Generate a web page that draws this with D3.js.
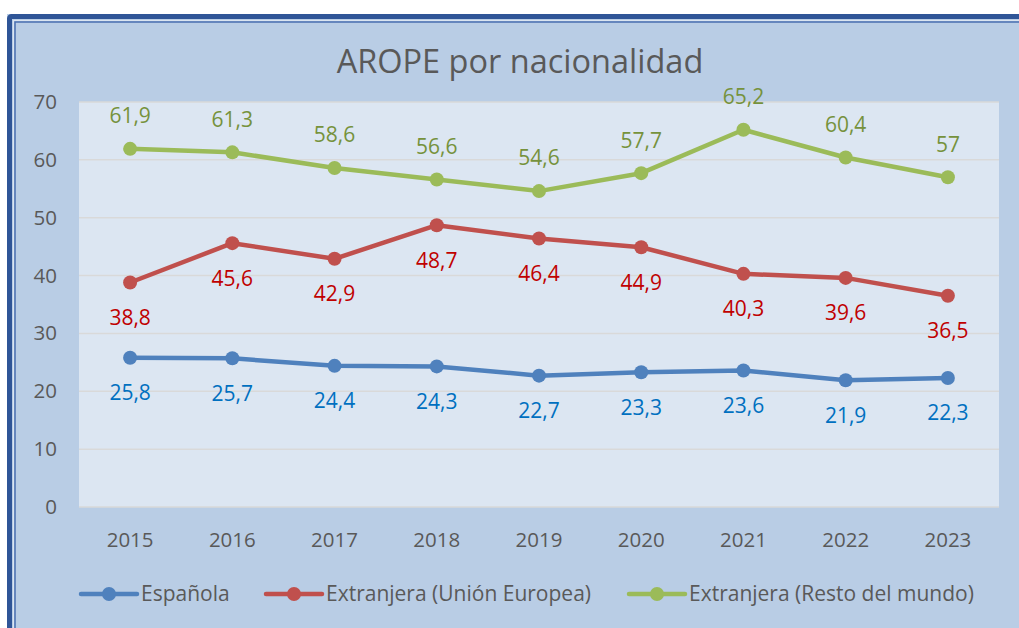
<!DOCTYPE html>
<html><head><meta charset="utf-8">
<script src="https://cdn.jsdelivr.net/npm/d3@7"></script>
<style>body{margin:0;background:#fff}svg{display:block}text{font-family:"Open Sans",sans-serif}</style>
</head><body><svg id="c" width="1019" height="628"></svg>
<script>
const years = ["2015","2016","2017","2018","2019","2020","2021","2022","2023"];
const espanola = [25.8,25.7,24.4,24.3,22.7,23.3,23.6,21.9,22.3];
const extUE = [38.8,45.6,42.9,48.7,46.4,44.9,40.3,39.6,36.5];
const extResto = [61.9,61.3,58.6,56.6,54.6,57.7,65.2,60.4,57];
const yTicks = [0,10,20,30,40,50,60,70];
const seriesNames = ["Española","Extranjera (Unión Europea)","Extranjera (Resto del mundo)"];

const series = [
  {name:seriesNames[0], values:espanola, color:"#4f81bd", label:"#0070c0", dy:35},
  {name:seriesNames[1], values:extUE, color:"#c0504d", label:"#c00000", dy:35},
  {name:seriesNames[2], values:extResto, color:"#9bbb59", label:"#76923c", dy:-33}
];

const svg = d3.select("#c");
svg.append("rect").attr("x",7).attr("y",14).attr("width",1030).attr("height",640).attr("fill","#b9cde5");
svg.append("rect").attr("x",9.5).attr("y",16.5).attr("width",1030).attr("height",640).attr("fill","none").attr("stroke","#2f5597").attr("stroke-width",5).attr("rx",2);
svg.append("rect").attr("x",13.5).attr("y",20.5).attr("width",1030).attr("height",640).attr("fill","none").attr("stroke","#dbe5f1").attr("stroke-width",1);
svg.append("rect").attr("x",15).attr("y",22).attr("width",1030).attr("height",640).attr("fill","none").attr("stroke","#4a6fb0").attr("stroke-width",1.5);

const L=79, R=999, T=102, B=507;
svg.append("rect").attr("x",L).attr("y",T).attr("width",R-L).attr("height",B-T).attr("fill","#dce6f2");

const x = d3.scaleBand().domain(years).range([L,R]);
const y = d3.scaleLinear().domain([0,70]).range([B,T]);

svg.append("g").selectAll("line").data(yTicks).join("line")
  .attr("x1",L).attr("x2",R).attr("y1",d=>y(d)).attr("y2",d=>y(d))
  .attr("stroke","#d9d9d9").attr("stroke-width",1.5);

const ya = svg.append("g").attr("transform",`translate(${L},0)`).call(d3.axisLeft(y).tickValues(yTicks).tickSize(0).tickPadding(22));
ya.select(".domain").remove();
ya.selectAll("text").attr("font-size",20.5).attr("fill","#595959").attr("font-family","Open Sans");

const xa = svg.append("g").attr("transform",`translate(0,${B})`).call(d3.axisBottom(x).tickSize(0).tickPadding(25));
xa.select(".domain").remove();
xa.selectAll("text").attr("font-size",20.5).attr("fill","#595959").attr("font-family","Open Sans");

const line = d3.line().x((d,i)=>x(years[i])+x.bandwidth()/2).y(d=>y(d));
series.forEach(s=>{
  const g = svg.append("g");
  g.append("path").attr("d",line(s.values)).attr("fill","none").attr("stroke",s.color).attr("stroke-width",4.5).attr("stroke-linejoin","round").attr("stroke-linecap","round");
  g.selectAll("circle").data(s.values).join("circle")
    .attr("cx",(d,i)=>x(years[i])+x.bandwidth()/2).attr("cy",d=>y(d)).attr("r",7).attr("fill",s.color);
  g.selectAll("text").data(s.values).join("text")
    .attr("x",(d,i)=>x(years[i])+x.bandwidth()/2).attr("y",d=>y(d)+s.dy).attr("dy","0.35em")
    .attr("text-anchor","middle").attr("font-size",21).attr("fill",s.label)
    .text(d=>String(d).replace(".",","));
});

svg.append("text").attr("x",520).attr("y",73).attr("text-anchor","middle").attr("font-size",32.5).attr("fill","#595959").text("AROPE por nacionalidad");

const legX = [81,266,629];
series.forEach((s,i)=>{
  const g = svg.append("g").attr("transform",`translate(${legX[i]},594)`);
  g.append("line").attr("x1",0).attr("x2",56).attr("stroke",s.color).attr("stroke-width",4.5).attr("stroke-linecap","round");
  g.append("circle").attr("cx",28).attr("r",7).attr("fill",s.color);
  g.append("text").attr("x",60).attr("dy","0.35em").attr("font-size",21).attr("fill","#595959").text(s.name);
});
</script></body></html>
